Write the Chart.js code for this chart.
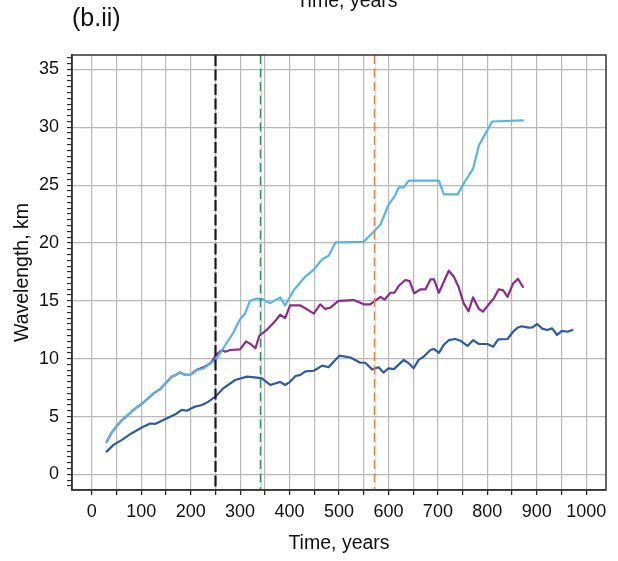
<!DOCTYPE html>
<html><head><meta charset="utf-8">
<script src="https://cdn.jsdelivr.net/npm/chart.js@4"></script>
<style>html,body{margin:0;padding:0;background:#fff;overflow:hidden}</style>
</head><body>
<canvas id="c" width="618" height="561"></canvas>
<script>
// ---- data ----
const lightBlueYears = [30,40,50,60,71,85,101,115,125,132,138,150,162,170,179,189,199,206,213,226,240,251,266,287,300,310,320,334,344,361,381,391,408,420,432,449,466,479,493,550,570,584,600,612,621,631,641,702,712,740,756,771,783,810,872];
const lightBlueKm    = [2.8,3.6,4.15,4.65,5.05,5.6,6.1,6.6,7.0,7.2,7.35,7.9,8.45,8.6,8.8,8.6,8.6,8.9,9.0,9.15,9.6,9.95,10.9,12.3,13.4,13.9,15.0,15.2,15.15,14.8,15.3,14.6,15.9,16.5,17.1,17.7,18.6,18.9,20.05,20.1,20.97,21.6,23.3,24.0,24.8,24.8,25.4,25.4,24.2,24.2,25.4,26.4,28.45,30.5,30.6];

const purpleYears = [30,40,50,60,71,85,101,115,125,132,138,150,162,170,179,189,199,213,226,240,253,263,270,280,300,312,320,331,339,354,368,381,391,401,422,438,449,462,472,482,499,530,550,563,584,592,604,612,621,634,643,652,665,675,685,692,702,722,732,742,752,762,771,783,791,803,813,823,832,841,852,862,872];
const purpleKm    = [2.8,3.6,4.15,4.65,5.05,5.6,6.1,6.6,7.0,7.2,7.35,7.9,8.45,8.6,8.8,8.6,8.6,9.05,9.25,9.6,10.4,10.75,10.6,10.75,10.8,11.5,11.3,10.9,12.0,12.5,13.1,13.8,13.5,14.6,14.6,14.2,13.9,14.7,14.3,14.4,15.0,15.07,14.7,14.7,15.35,15.1,15.7,15.7,16.3,16.8,16.7,15.65,16.0,16.0,16.85,16.85,15.7,17.6,17.1,16.2,14.8,14.1,15.3,14.3,14.06,14.7,15.2,16.0,15.9,15.35,16.5,16.9,16.2];

const darkBlueYears = [30,44,61,81,101,118,128,148,169,182,192,209,223,236,250,266,290,314,334,344,361,381,391,401,412,422,432,449,466,479,489,501,523,543,553,567,580,590,600,611,631,641,651,661,671,685,692,702,712,722,735,746,760,771,783,800,812,822,841,852,862,870,884,891,901,911,921,931,941,951,962,972];
const darkBlueKm    = [1.97,2.55,2.98,3.56,4.05,4.4,4.36,4.76,5.2,5.57,5.5,5.86,6.0,6.29,6.72,7.44,8.16,8.45,8.36,8.3,7.73,8.0,7.73,8.0,8.5,8.6,8.9,8.96,9.4,9.26,9.74,10.26,10.1,9.65,9.65,9.08,9.26,8.8,9.17,9.1,9.9,9.6,9.17,9.9,10.17,10.75,10.84,10.5,11.2,11.6,11.7,11.55,11.1,11.6,11.27,11.27,11.04,11.67,11.7,12.33,12.7,12.8,12.68,12.7,13.0,12.6,12.48,12.62,12.05,12.4,12.33,12.48];

const markerYears  = [250, 340, 570];
const markerColors = ['#1a1a1a', '#1f9d57', '#f47a3a'];

const xTickLabels = [0,100,200,300,400,500,600,700,800,900,1000];
const yTickLabels = [0,5,10,15,20,25,30,35];

const FONT = "'Liberation Sans', Arial, Helvetica, sans-serif";

function pts(xs, ys) { return xs.map((x, i) => ({x: x, y: ys[i]})); }

const extras = {
  id: 'extras',
  afterDatasetsDraw(chart) {
    const {ctx, chartArea: a, scales: {x}} = chart;
    ctx.save();
    markerYears.forEach((yr, i) => {
      const px = Math.round(x.getPixelForValue(yr)) + 0.5;
      if (i > 0) {
        ctx.strokeStyle = markerColors[i];
        ctx.globalAlpha = 0.25;
        ctx.lineWidth = 1;
        ctx.setLineDash([]);
        ctx.beginPath(); ctx.moveTo(px + 1, a.top); ctx.lineTo(px + 1, a.bottom); ctx.stroke();
        ctx.globalAlpha = 1;
      }
      ctx.strokeStyle = markerColors[i];
      ctx.lineWidth = i === 0 ? 2.2 : 1.5;
      ctx.setLineDash(i === 0 ? [11, 3.5] : [9, 4.5]);
      ctx.beginPath(); ctx.moveTo(px, a.top); ctx.lineTo(px, a.bottom); ctx.stroke();
    });
    ctx.restore();
  },
  afterDraw(chart) {
    const {ctx, chartArea: a} = chart;
    ctx.save();
    ctx.strokeStyle = '#333';
    ctx.lineWidth = 1.5;
    ctx.setLineDash([]);
    ctx.strokeRect(a.left, a.top, a.right - a.left, a.bottom - a.top);
    ctx.fillStyle = '#111';
    ctx.font = '25px ' + FONT;
    ctx.textAlign = 'left';
    ctx.textBaseline = 'alphabetic';
    ctx.fillText('(b.ii)', 72, 25.5);
    ctx.font = '19.5px ' + FONT;
    ctx.textAlign = 'center';
    ctx.fillText('Time, years', 347, 6.5);
    ctx.restore();
  }
};

new Chart(document.getElementById('c'), {
  type: 'line',
  data: {
    datasets: [
      {label: 'light', data: pts(lightBlueYears, lightBlueKm), borderColor: '#56b4e9', borderWidth: 2.2},
      {label: 'purple', data: pts(purpleYears, purpleKm), borderColor: '#8e2a8c', borderWidth: 2.2},
      {label: 'dark', data: pts(darkBlueYears, darkBlueKm), borderColor: '#2b5ba8', borderWidth: 2.2}
    ]
  },
  options: {
    responsive: false,
    animation: false,
    devicePixelRatio: 1,
    layout: {padding: {left: 0, right: 12, top: 55, bottom: 0}},
    elements: {point: {radius: 0}, line: {tension: 0, borderJoinStyle: 'round', borderCapStyle: 'round'}},
    plugins: {legend: {display: false}, tooltip: {enabled: false}, title: {display: false}},
    scales: {
      x: {
        type: 'linear', position: 'bottom', min: -40, max: 1040,
        afterBuildTicks(s) {
          const t = [];
          for (let v = 0; v <= 1000; v += 50) t.push({value: v});
          s.ticks = t;
        },
        afterFit(s) { s.height = 71; s.paddingLeft = 0; s.paddingRight = 0; },
        ticks: {
          autoSkip: false, maxRotation: 0, padding: 6, color: '#111',
          font: {family: FONT, size: 18},
          callback: v => xTickLabels.includes(v) ? String(v) : ''
        },
        grid: {color: '#b9b9b9', lineWidth: 1.2, tickColor: '#222', tickWidth: 1.3, tickLength: 5, drawTicks: true},
        border: {display: true, color: '#333', width: 1.5},
        title: {display: true, text: 'Time, years', color: '#111', font: {family: FONT, size: 19.5}, padding: {top: 0, bottom: 6}}
      },
      y: {
        type: 'linear', min: -1.35, max: 36.25,
        afterBuildTicks(s) {
          const t = [];
          for (let k = -2; k <= 72; k++) t.push({value: k / 2});
          s.ticks = t;
        },
        afterFit(s) { s.width = 72; s.paddingTop = 0; s.paddingBottom = 0; },
        ticks: {
          autoSkip: false, padding: 8, color: '#111',
          font: {family: FONT, size: 18},
          callback: v => yTickLabels.includes(v) ? String(v) : ''
        },
        grid: {
          color: c => (c.tick && yTickLabels.includes(c.tick.value)) ? '#b9b9b9' : 'rgba(0,0,0,0)',
          lineWidth: 1.2, tickColor: '#222', tickWidth: 1.1, tickLength: 5, drawTicks: true
        },
        border: {display: true, color: '#333', width: 1.5},
        title: {display: true, text: 'Wavelength, km', color: '#111', font: {family: FONT, size: 19.5}, padding: {top: 11, bottom: 0}}
      }
    }
  },
  plugins: [extras]
});
</script>
</body></html>
